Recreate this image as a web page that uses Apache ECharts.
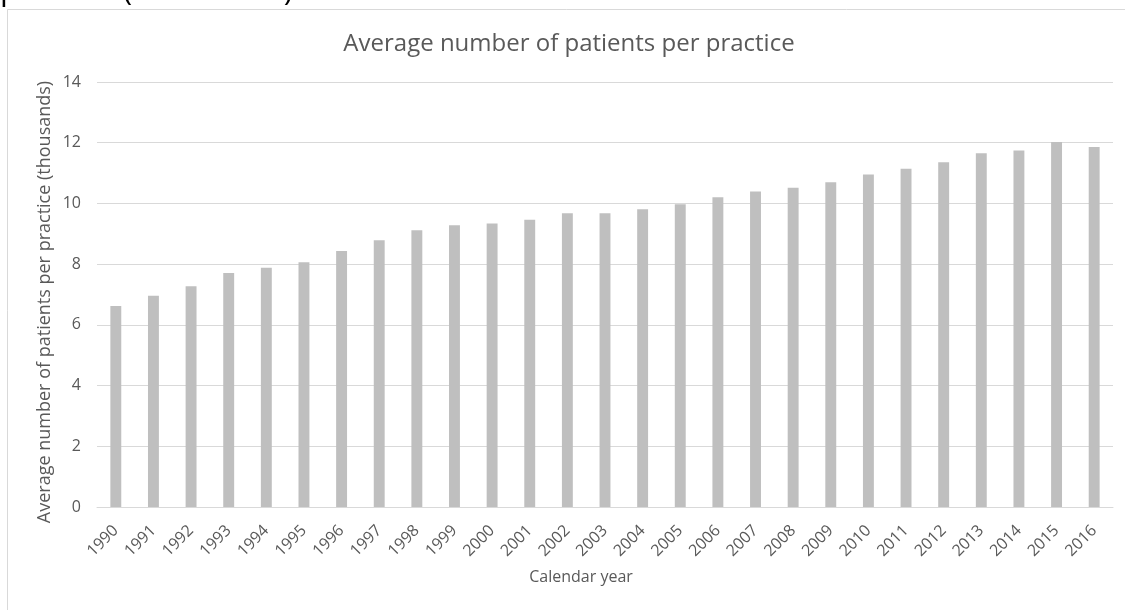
<!DOCTYPE html>
<html>
<head>
<meta charset="utf-8">
<style>
  html, body { margin: 0; padding: 0; background: #ffffff; }
  #chart { width: 1125px; height: 610px; }
</style>
<script src="https://cdn.jsdelivr.net/npm/echarts@6/dist/echarts.min.js"></script>
</head>
<body>
<div id="chart"></div>
<script>
// Calendar years on the x axis
const years = ['1990','1991','1992','1993','1994','1995','1996','1997','1998','1999',
  '2000','2001','2002','2003','2004','2005','2006','2007','2008','2009',
  '2010','2011','2012','2013','2014','2015','2016'];

// Average number of patients per practice, in thousands
const patientsPerPractice = [6.62, 6.96, 7.27, 7.71, 7.88, 8.06, 8.43, 8.79, 9.12, 9.28,
  9.34, 9.46, 9.68, 9.68, 9.81, 9.97, 10.20, 10.39, 10.52, 10.70,
  10.95, 11.14, 11.36, 11.65, 11.74, 12.02, 11.86];

// Value axis range
const yMin = 0;
const yMax = 14;
const yStep = 2;

const FONT = '"Open Sans", "Noto Sans", sans-serif';
const TEXT = '#595959';

const chart = echarts.init(document.getElementById('chart'), null, { renderer: 'canvas' });

chart.setOption({
  animation: false,
  backgroundColor: '#ffffff',
  textStyle: { fontFamily: FONT },
  grid: { left: 97, right: 12, top: 82, bottom: 103, containLabel: false },
  graphic: [
    // Frame of the chart area
    {
      type: 'rect', silent: true,
      shape: { x: 7.5, y: 9.5, width: 1130, height: 620 },
      style: { fill: 'none', stroke: '#d9d9d9', lineWidth: 1 }
    },
    // Heading above the chart frame
    {
      type: 'text', silent: true, x: 0, y: -24,
      style: { text: 'practice (1990-2016)', font: '31px ' + FONT, fill: '#000000', verticalAlign: 'top' }
    },
    // Chart title
    {
      type: 'text', silent: true, x: 569, y: 44,
      style: {
        text: 'Average number of patients per practice', font: '24px ' + FONT,
        fill: TEXT, align: 'center', verticalAlign: 'middle'
      }
    },
    // x axis title
    {
      type: 'text', silent: true, x: 581, y: 577,
      style: {
        text: 'Calendar year', font: '16px ' + FONT,
        fill: TEXT, align: 'center', verticalAlign: 'middle'
      }
    },
    // y axis title
    {
      type: 'text', silent: true, x: 45, y: 302, rotation: Math.PI / 2,
      style: {
        text: 'Average number of patients per practice (thousands)', font: '18px ' + FONT,
        fill: TEXT, align: 'center', verticalAlign: 'middle'
      }
    }
  ],
  xAxis: {
    type: 'category',
    data: years,
    axisLine: { show: true, lineStyle: { color: '#d9d9d9', width: 1 } },
    axisTick: { show: false },
    axisLabel: {
      rotate: 45, interval: 0, margin: 21,
      color: TEXT, fontSize: 16, fontFamily: FONT
    },
    splitLine: { show: false }
  },
  yAxis: {
    type: 'value',
    min: yMin, max: yMax, interval: yStep,
    axisLine: { show: false },
    axisTick: { show: false },
    axisLabel: { color: TEXT, fontSize: 16, fontFamily: FONT, margin: 16 },
    splitLine: { show: true, lineStyle: { color: '#d9d9d9', width: 1 } }
  },
  series: [{
    type: 'bar',
    data: patientsPerPractice,
    barWidth: '29%',
    itemStyle: { color: '#bfbfbf' }
  }]
});
</script>
</body>
</html>
